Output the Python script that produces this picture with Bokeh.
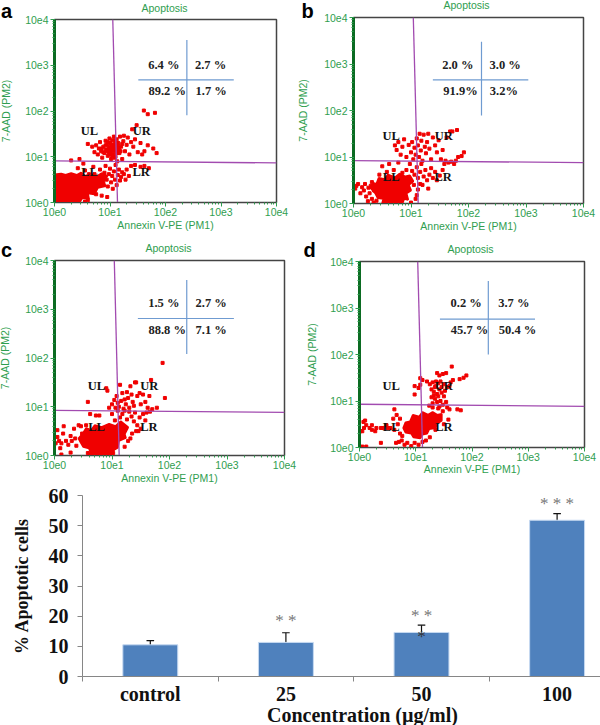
import numpy as np
from bokeh.plotting import figure
from bokeh.layouts import column, row
from bokeh.models import Label, FixedTicker, Whisker, ColumnDataSource, Range1d
from bokeh.embed import file_html
from bokeh.resources import INLINE

# ---- flow cytometry dots, (log10 Annexin V-PE, log10 7-AAD)
points_a = [(1.61,2.01),(1.68,1.93),(1.81,1.96),(1.48,1.69),(1.40,1.60),
 (0.60,1.28),(0.68,1.22),(0.72,1.10),(0.75,1.25),(0.78,1.05),(0.80,1.18),(0.82,1.32),(0.84,1.12),(0.86,0.98),(0.88,1.22),
 (0.90,1.08),(0.92,1.35),(0.93,1.16),(0.95,1.28),(0.96,1.02),(0.98,1.20),(0.99,1.40),(1.00,1.10),(1.01,1.30),(1.02,0.95),
 (1.03,1.18),(1.04,1.36),(1.05,1.24),(1.06,1.05),(1.07,1.44),(1.08,1.14),(1.09,1.28),(1.10,1.00),(1.11,1.22),(1.12,1.38),
 (1.13,0.90),(1.14,1.16),(1.15,1.30),(1.17,1.08),(1.18,1.44),(1.20,1.22),(1.22,0.95),(1.24,1.34),(1.25,1.46),(1.27,1.12),
 (1.30,1.26),(1.32,1.42),(1.35,1.05),(1.38,1.32),(1.42,1.22),(1.45,1.38),(1.50,1.10),(1.55,1.30),(1.58,1.05),(1.62,1.12),
 (1.78,1.18),(1.84,1.08),(1.68,1.25),(0.97,1.15),(1.01,1.05),(1.05,1.15),(0.92,1.25),(1.10,1.30),(1.15,1.10),
 (0.98,1.08),(1.03,1.26),(1.07,1.20),(1.12,1.08),(0.94,1.12),(1.09,1.36),(1.14,1.24),(1.00,1.22),(0.88,1.10),(1.06,1.12),
 (1.16,1.18),(1.02,1.14),(1.11,1.15),(0.96,1.32),(1.19,1.12),(1.08,0.98),(1.13,1.30),(1.22,1.28),(0.85,1.18),(1.04,1.02),
 (0.55,0.70),(0.62,0.62),(0.70,0.78),(0.72,0.62),(0.78,0.52),(0.82,0.72),(0.85,0.55),(0.88,0.42),(0.90,0.65),(0.92,0.80),
 (0.94,0.50),(0.96,0.35),(0.98,0.62),(1.00,0.74),(1.02,0.44),(1.04,0.58),(1.05,0.30),(1.07,0.68),(1.09,0.50),(1.10,0.82),
 (1.12,0.38),(1.14,0.60),(1.16,0.72),(1.18,0.48),(1.20,0.56),(1.22,0.66),(1.25,0.62),(1.28,0.50),(1.30,0.72),(1.34,0.58),
 (1.38,0.80),(1.45,0.82),(1.55,0.78),(1.70,0.75),(0.85,0.15),(0.70,0.30),(0.75,0.18),(0.60,0.05),(0.55,0.02),(0.65,0.25),
 (0.52,0.85),(0.45,0.95),(0.42,0.75),(0.95,0.12),(1.62,0.80),(0.30,0.92)]
blob_a = [(0.0,0.61),(0.12,0.63),(0.2,0.60),(0.3,0.64),(0.4,0.60),(0.48,0.65),(0.55,0.58),(0.65,0.62),(0.75,0.56),(0.85,0.64),(0.95,0.58),(0.88,0.45),(0.92,0.36),(0.78,0.32),(0.72,0.18),(0.6,0.20),(0.62,0.08),(0.5,0.10),(0.46,0.02),(0.0,0.0)]

points_b = [(0.72,1.25),(0.75,1.15),(0.78,1.32),(0.82,1.05),(0.85,1.22),(0.88,1.38),(0.92,1.00),(0.96,1.26),(1.00,1.10),(1.02,1.32),
 (1.04,0.95),(1.06,1.20),(1.08,1.05),(1.10,1.40),(1.12,1.25),(1.14,1.00),(1.15,1.50),(1.17,1.14),(1.18,1.35),(1.20,0.92),
 (1.22,1.48),(1.24,1.22),(1.26,1.08),(1.28,1.32),(1.30,1.50),(1.32,1.18),(1.35,0.95),(1.38,1.42),(1.42,1.25),(1.45,1.10),
 (1.48,1.36),(1.52,0.95),(1.55,1.15),(1.58,0.85),(1.60,0.92),(1.62,1.42),(1.65,0.88),(1.68,1.55),(1.70,0.90),(1.72,1.55),
 (1.75,0.85),(1.78,0.92),(1.80,1.58),(1.82,1.00),(1.88,1.02),(1.92,1.10),
 (0.50,0.80),(0.58,0.68),(0.62,0.85),(0.70,0.72),(0.78,0.88),(0.85,0.66),(0.92,0.72),(0.98,0.85),(1.02,0.70),(1.06,0.62),
 (1.10,0.78),(1.12,0.55),(1.16,0.68),(1.18,0.85),(1.20,0.40),(1.22,0.58),(1.25,0.72),(1.28,0.50),(1.30,0.32),(1.32,0.62),
 (1.35,0.76),(1.38,0.55),(1.42,0.68),(1.45,0.50),(1.50,0.60),(1.55,0.72),(1.12,0.30),(1.16,0.42),(1.10,0.18),(1.05,0.40),
 (1.08,0.10),(1.00,0.02),(0.05,0.38),(0.08,0.42),(0.03,0.32),(0.12,0.22),(0.15,0.35),(0.18,0.28),(0.20,0.42),(0.22,0.15),
 (0.25,0.05),(0.28,0.22),(0.30,0.38),(0.32,0.10),(0.35,0.02),(0.36,0.28),(0.40,0.06),(0.26,0.34),(0.32,0.46),(0.45,0.62)]
blob_b = [(0.30,0.33),(0.34,0.44),(0.40,0.42),(0.44,0.55),(0.54,0.52),(0.60,0.62),(0.72,0.56),(0.80,0.64),(0.90,0.58),(0.98,0.60),(1.04,0.48),(0.96,0.40),(1.00,0.28),(0.92,0.22),(0.95,0.08),(0.88,0.10),(0.85,0.0),(0.50,0.0),(0.52,0.10),(0.42,0.12),(0.38,0.22)]

points_c = [(1.88,1.90),(1.68,1.55),(1.40,1.50),(0.90,1.38),(0.92,1.33),(0.58,1.10),(0.95,0.98),(1.00,1.05),(1.04,1.14),(1.06,0.98),
 (1.08,1.22),(1.10,1.08),(1.12,1.00),(1.14,1.45),(1.16,1.12),(1.18,1.28),(1.20,0.96),(1.22,1.15),(1.24,1.05),(1.26,1.30),
 (1.28,1.18),(1.30,0.98),(1.32,1.42),(1.34,1.25),(1.36,1.10),(1.38,1.02),(1.42,1.50),(1.44,1.22),(1.48,1.28),(1.50,1.05),
 (1.54,1.25),(1.58,1.10),(1.62,0.98),(1.65,1.22),(1.70,0.95),(1.78,0.98),(1.92,1.18),
 (1.00,0.85),(1.05,0.72),(1.10,0.92),(1.14,0.78),(1.18,0.85),(1.22,0.92),(1.26,0.74),(1.30,0.90),(1.34,0.80),(1.38,0.70),
 (1.40,0.88),(1.44,0.62),(1.48,0.78),(1.50,0.55),(1.54,0.85),(1.58,0.72),(1.42,0.50),(1.46,0.50),(1.35,0.45),(1.60,0.88),
 (1.66,0.90),(1.32,0.35),(1.28,0.30),(1.22,0.18),(0.62,0.85),(0.72,0.82),(0.78,0.82),(0.55,0.62),
 (0.02,0.25),(0.05,0.52),(0.08,0.30),(0.12,0.25),(0.15,0.45),(0.16,0.60),(0.20,0.30),(0.24,0.22),(0.28,0.40),(0.30,0.30),
 (0.34,0.55),(0.36,0.35),(0.12,0.02),(0.28,0.06),(0.38,0.20),(0.42,0.62),(0.46,0.60),(0.48,0.45),(0.05,0.38),(0.10,0.15),
 (0.58,0.05),(0.62,0.02),(0.70,0.04),(0.85,0.03),(1.02,0.05)]
blob_c = [(0.42,0.35),(0.50,0.46),(0.55,0.56),(0.64,0.52),(0.70,0.62),(0.82,0.58),(0.95,0.65),(1.06,0.60),(1.15,0.70),(1.28,0.58),(1.22,0.44),(1.24,0.36),(1.12,0.30),(1.10,0.16),(1.04,0.12),(1.00,0.03),(0.64,0.02),(0.60,0.15),(0.50,0.18),(0.46,0.26)]

points_d = [(1.64,1.74),(1.90,1.55),(1.85,1.50),(1.78,1.47),(1.62,1.40),(1.66,1.45),(1.60,1.32),(1.54,1.60),(1.48,1.58),(1.42,1.55),
 (1.36,1.42),(1.38,1.60),(1.08,1.49),(1.12,1.45),(0.98,1.32),(1.05,1.28),(1.08,1.35),(0.98,1.14),(1.20,1.42),(1.25,1.36),
 (1.30,1.40),(1.34,1.30),(1.28,1.25),(1.32,1.20),(1.36,1.32),(1.40,1.38),(1.44,1.42),(1.46,1.30),(1.50,1.36),(1.42,1.25),
 (1.38,1.15),(1.32,1.12),(1.28,1.08),(1.34,1.05),(1.40,1.10),(1.46,1.18),(1.52,1.22),(1.56,1.30),(1.50,1.10),(1.44,1.00),
 (1.38,0.98),(1.30,0.95),(1.42,0.88),(1.48,0.92),(1.54,0.98),(1.56,0.86),(1.60,0.82),(1.74,0.82),(1.80,0.80),(1.48,0.78),
 (1.40,0.84),(1.30,0.86),(1.24,0.90),
 (0.62,0.82),(0.60,0.62),(0.66,0.70),(0.72,0.62),(0.68,0.50),(0.55,0.42),(0.62,0.38),(0.48,0.48),(0.50,0.42),(0.42,0.42),
 (0.38,0.42),(0.30,0.42),(0.22,0.38),(0.18,0.42),(0.12,0.48),(0.08,0.42),(0.05,0.35),(0.02,0.35),(0.07,0.55),(0.10,0.58),
 (0.22,0.48),(0.28,0.35),(0.05,0.02),(0.12,0.02),(0.38,0.10),(0.65,0.10),(0.70,0.12),(0.75,0.15),(0.80,0.06),(0.85,0.10),
 (0.92,0.03),(0.98,0.10),(1.05,0.06),(1.12,0.12),(1.18,0.15),(0.72,0.30),(0.76,0.25),(1.25,0.22),(1.35,0.38),(1.50,0.50),(1.58,0.60)]
blob_d = [(0.78,0.42),(0.82,0.54),(0.90,0.56),(0.95,0.70),(1.06,0.66),(1.12,0.76),(1.22,0.70),(1.30,0.76),(1.38,0.70),(1.46,0.72),(1.46,0.58),(1.38,0.52),(1.35,0.42),(1.24,0.40),(1.20,0.30),(1.12,0.28),(1.08,0.20),(0.96,0.22),(0.92,0.30),(0.82,0.32)]

# gate lines (log10): vertical x at top / bottom, horizontal y at left / right
gate_v = {"a":(1.05,1.135),"b":(1.04,1.125),"c":(1.04,1.125),"d":(1.035,1.12)}
gate_h = {"a":(0.91,0.865),"b":(0.92,0.88),"c":(0.925,0.884),"d":(0.93,0.885)}
# blue cross (log10): x, ylow, yhigh, y, xlow, xhigh
cross = {"a":(2.385,1.905,3.55,2.68,1.51,3.23),"b":(2.226,1.89,3.48,2.66,1.38,3.04),
         "c":(2.30,2.08,3.60,2.81,1.45,3.12),"d":(2.29,2.0,3.58,2.76,1.43,3.12)}
pct_texts = {"a":["6.4 %","2.7 %","89.2 %","1.7 %"],"b":["2.0 %","3.0 %","91.9%","3.2%"],
             "c":["1.5 %","2.7 %","88.8 %","7.1 %"],"d":["0.2 %","3.7 %","45.7 %","50.4 %"]}
quad_texts = ["UL","UR","LL","LR"]
panel_title = "Apoptosis"
log_ticks = [1,10,100,1000,10000]
log_tick_labels = ["10e0","10e1","10e2","10e3","10e4"]

# bar chart
concentrations = ["control","25","50","100"]
apoptotic = [10.5,11.3,14.6,51.8]
err_upper = [11.9,14.5,17.0,54.0]
err_lower = [9.9,10.9,13.4,50.6]
stars = ["","* *","* *","* * *"]
star_level = [0,18.4,20.3,57.3]
bar_xlabel = "Concentration (µg/ml)"

# ---- layout geometry: (box left, box top, box w, box h, frame l, t, r, b) in image px
GEOM = {"a":(0,0,300,250,54,19,276,202),
        "b":(300,0,300,250,353,17,583,203),
        "c":(0,240,300,256,54,260,284,455),
        "d":(300,240,300,256,359,261,584,447)}
PCT_POS = {"a":[(490,193),(630,193),(500,272),(632,272)],"b":[(472,193),(614,193),(480,272),(610,272)],
           "c":[(490,188),(632,188),(500,267),(632,267)],"d":[(497,188),(640,188),(507,267),(651,267)]}
QUAD_POS = {"a":[(267,392),(424,392),(267,515),(422,515)],"b":[(272,405),(430,405),(272,530),(428,530)],
            "c":[(288,436),(446,436),(288,558),(445,558)],"d":[(272,436),(430,436),(272,558),(430,558)]}
YSO = {"a":10,"b":12,"c":11,"d":9}
XSO = {"a":0,"b":0,"c":0,"d":-1}
LEFT_EXTRA = 16
GREEN = "#2f9e4f"
DARK = "#0b6b22"

def panel(key, pts, blob):
    bl,bt,bw,bh,l,t,r,b = GEOM[key]
    f = figure(width=bw+LEFT_EXTRA, height=bh, x_axis_type="log", y_axis_type="log",
               x_range=Range1d(1,10000), y_range=Range1d(1,10000),
               min_border_left=l-bl+LEFT_EXTRA, min_border_right=bl+bw-r,
               min_border_top=t-bt, min_border_bottom=bt+bh-b,
               output_backend="svg", toolbar_location=None, frame_align=False,
               margin=(0,0,0,-LEFT_EXTRA),
               outline_line_color="#444444", outline_line_width=1.5,
               background_fill_color="white", border_fill_color=None)
    f.grid.visible=False
    for ax,lab in ((f.xaxis[0],"Annexin V-PE (PM1)"),(f.yaxis[0],"7-AAD (PM2)")):
        ax.axis_label=lab
        ax.axis_label_text_color=GREEN; ax.axis_label_text_font="Liberation Sans"
        ax.axis_label_text_font_style="normal"; ax.axis_label_text_font_size="10.5px"
        ax.major_label_text_color=GREEN; ax.major_label_text_font="Liberation Sans"
        ax.major_label_text_font_size="10.5px"
        ax.major_label_overrides=dict(zip(log_ticks,log_tick_labels))
        ax.major_tick_line_color=GREEN; ax.minor_tick_line_color=GREEN
        ax.major_tick_out=4; ax.major_tick_in=0; ax.minor_tick_out=2; ax.minor_tick_in=0
    f.xaxis[0].axis_line_color="#444444"
    f.xaxis[0].axis_label_standoff=XSO[key]; f.xaxis[0].major_label_standoff=1
    f.yaxis[0].axis_line_color=DARK; f.yaxis[0].axis_line_width=3
    f.yaxis[0].major_label_standoff=2; f.yaxis[0].axis_label_standoff=YSO[key]
    f.patch(10**np.array([q[0] for q in blob]),10**np.array([q[1] for q in blob]),color="#f00000",line_width=2)
    f.scatter(10**np.array([q[0] for q in pts]),10**np.array([q[1] for q in pts]),marker="square",size=3,color="#f00000")
    vt,vb = gate_v[key]; hl,hr = gate_h[key]
    f.line(10**np.array([vt,vb]),[10000,1],color="#a24bb0",line_width=1.3)
    f.line([1,10000],10**np.array([hl,hr]),color="#a24bb0",line_width=1.3)
    cx,y0,y1,cy,x0,x1 = cross[key]
    f.line(10**np.array([cx,cx]),10**np.array([y0,y1]),color="#6f9bd1",line_width=1.2)
    f.line(10**np.array([x0,x1]),10**np.array([cy,cy]),color="#6f9bd1",line_width=1.2)
    def dx(px): return 10**(4*(px-l)/(r-l))
    def dy(py): return 10**(4*(b-py)/(b-t))
    for txt,(zx,zy) in zip(pct_texts[key],PCT_POS[key]):
        f.add_layout(Label(x=dx(bl+zx/3),y=dy(bt+zy/3),text=txt,text_align="center",text_baseline="middle",
                           text_font="Liberation Serif",text_font_style="bold",text_font_size="12.5px",text_color="#222222"))
    for txt,(zx,zy) in zip(quad_texts,QUAD_POS[key]):
        f.add_layout(Label(x=dx(bl+zx/3),y=dy(bt+zy/3),text=txt,text_align="center",text_baseline="middle",
                           text_font="Liberation Serif",text_font_style="bold",text_font_size="12.5px",text_color="#111111"))
    return f

def strip():
    """Transparent band laid over part of the page, in page pixels, for texts outside any frame."""
    s = figure(width=600, height=24, x_range=Range1d(0,600), y_range=Range1d(24,0),
               x_axis_location=None, y_axis_location=None, min_border=0, frame_align=False,
               output_backend="svg", toolbar_location=None, outline_line_color=None,
               background_fill_color=None, border_fill_color=None)
    s.grid.visible=False
    return s

def top_strip(letters, letter_x, letter_y, title_x, title_y):
    s = strip(); s.margin=(0,0,-24,0)
    s.text(x=letter_x, y=letter_y, text=letters, text_align="center", text_baseline="middle",
           text_font={"value":"Liberation Sans"}, text_font_style="bold", text_font_size={"value":"20px"}, text_color="black")
    s.text(x=title_x, y=title_y, text=[panel_title]*len(title_x), text_align="center", text_baseline="middle",
           text_font={"value":"Liberation Sans"}, text_font_size={"value":"10.5px"}, text_color=GREEN)
    return s

pa = panel("a",points_a,blob_a); pb = panel("b",points_b,blob_b)
pc = panel("c",points_c,blob_c); pd_ = panel("d",points_d,blob_d)
strip1 = top_strip(["a","b"],[6,307],[10,10],[164,466],[7,4])
strip2 = top_strip(["c","d"],[6,309],[9,9],[168,470],[7,8])

# bar chart: box y 486..725, frame x 82..600, y 495..676
xs = [0.5,1.5,2.5,3.5]
bar = figure(width=600, height=239, x_range=Range1d(0,3.82), y_range=Range1d(0,60), frame_align=False,
             min_border_left=82, min_border_right=0, min_border_top=9, min_border_bottom=49,
             output_backend="svg", toolbar_location=None, outline_line_color=None, border_fill_color=None)
bar.grid.visible=False
bar.vbar(x=xs, top=apoptotic, width=0.405, bottom=0, fill_color="#4f81bd", line_color="#c6d9f1", line_width=1)
src = ColumnDataSource(dict(x=xs, upper=err_upper, lower=err_lower))
bar.add_layout(Whisker(source=src, base="x", upper="upper", lower="lower", line_color="#111111", line_width=1.2,
                       upper_head=None, lower_head=None))
bar.segment(x0=[v-0.028 for v in xs], x1=[v+0.028 for v in xs], y0=err_upper, y1=err_upper, color="#111111", line_width=1.2)
bar.text(x=xs, y=star_level, text=stars, text_align="center", text_baseline="middle",
         text_font={"value":"Liberation Serif"}, text_font_size={"value":"17px"}, text_color="#777777")
bar.text(x=[2.5], y=[13.4], text=["*"], text_align="center", text_baseline="middle",
         text_font={"value":"Liberation Serif"}, text_font_size={"value":"17px"}, text_color="#333333")
xa = bar.xaxis[0]; ya = bar.yaxis[0]
xa.ticker = FixedTicker(ticks=xs, minor_ticks=[0,1,2,3])
xa.major_label_overrides = dict(zip(xs,concentrations))
xa.major_tick_line_color=None; xa.minor_tick_line_color="#868686"; xa.minor_tick_out=5; xa.minor_tick_in=0
xa.axis_line_color="#868686"
ya.axis_label="% Apoptotic cells"
ya.ticker = FixedTicker(ticks=[0,10,20,30,40,50,60])
ya.major_tick_line_color="#868686"; ya.major_tick_out=5; ya.major_tick_in=0; ya.minor_tick_line_color=None
ya.axis_line_color="#868686"
for ax in (xa,ya):
    ax.major_label_text_font="Liberation Serif"; ax.major_label_text_font_style="bold"
    ax.major_label_text_font_size="20px"; ax.major_label_text_color="#111111"
ya.axis_label_text_font="Liberation Serif"; ya.axis_label_text_font_style="bold"
ya.axis_label_text_font_size="18px"; ya.axis_label_text_color="#111111"
xa.major_label_standoff=0
ya.major_label_standoff=9; ya.axis_label_standoff=14

xlabel_strip = strip(); xlabel_strip.margin=(-24,0,0,0)
xlabel_strip.text(x=[362], y=[13], text=[bar_xlabel], text_align="center", text_baseline="middle",
                  text_font={"value":"Liberation Serif"}, text_font_style="bold", text_font_size={"value":"20px"}, text_color="#111111")

layout = column(strip1, row(pa,pb,spacing=0,margin=(0,0,-10,0)),
                strip2, row(pc,pd_,spacing=0,margin=(0,0,-10,0)), bar, xlabel_strip,
                spacing=0)
open("out.html","w").write(file_html(layout, INLINE))
